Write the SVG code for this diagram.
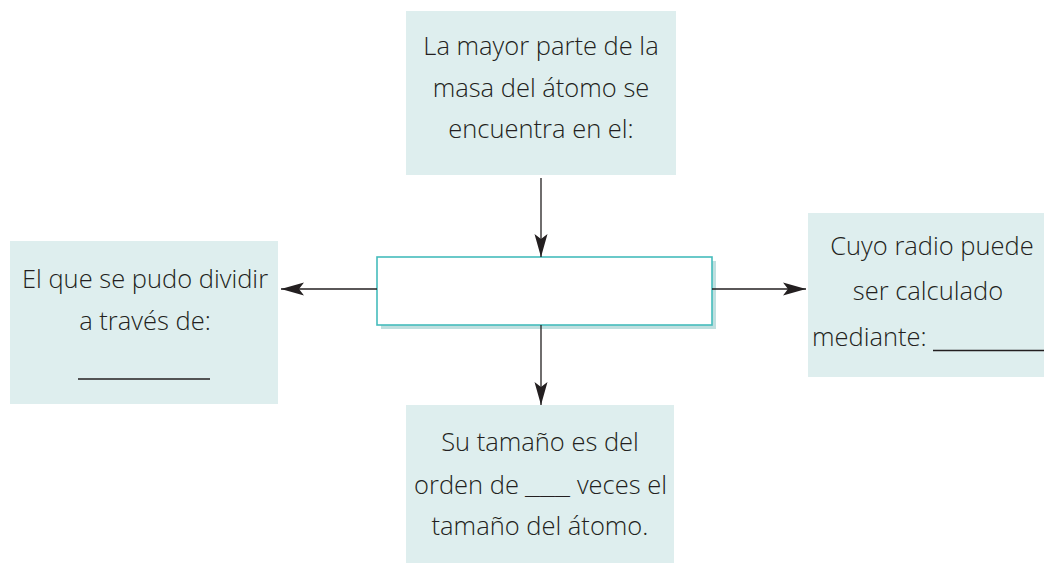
<svg xmlns="http://www.w3.org/2000/svg" width="1044" height="563" viewBox="0 0 1044 563">
<style>
.box{fill:#deeeee;}
.t{font-family:"Open Sans",Lato,"Liberation Sans",sans-serif;font-weight:300;font-size:25.5px;fill:#231f20;text-anchor:middle;}
.s{text-anchor:start;}
.e{text-anchor:end;}
.c{stroke:#231f20;stroke-width:1.3;fill:none;marker-end:url(#ah);}
</style>
<defs>
<marker id="ah" markerUnits="userSpaceOnUse" markerWidth="26" markerHeight="16" viewBox="-24 -8 26 16" refX="0" refY="0" orient="auto">
<path d="M0,0 L-23,-6.5 L-18,0 L-23,6.5 Z" fill="#231f20"/>
</marker>
</defs>
<rect width="1044" height="563" fill="#ffffff"/>
<g id="top">
<rect class="box" x="406" y="11" width="270" height="164"/>
<text class="t" x="541" y="55">La mayor parte de la</text>
<text class="t" x="541" y="97">masa del átomo se</text>
<text class="t" x="541" y="138">encuentra en el:</text>
</g>
<g id="center">
<rect x="381" y="261" width="335" height="68" fill="#bfdfdf"/>
<rect x="377" y="257" width="335" height="68" fill="#ffffff" stroke="#45bcbc" stroke-width="1.6"/>
</g>
<g id="left">
<rect class="box" x="10" y="241" width="268" height="163"/>
<text class="t" x="145" y="288">El que se pudo dividir</text>
<text class="t" x="145" y="330">a través de:</text>
<line x1="78" y1="379" x2="210" y2="379" stroke="#231f20" stroke-width="1.3"/>
</g>
<g id="right">
<rect class="box" x="808" y="213" width="236" height="164"/>
<text class="t" x="932" y="255">Cuyo radio puede</text>
<text class="t" x="928" y="300">ser calculado</text>
<text class="t s" x="812" y="346">mediante:</text>
<line x1="933" y1="350.5" x2="1044" y2="350.5" stroke="#231f20" stroke-width="1.3"/>
</g>
<g id="bottom">
<rect class="box" x="406" y="405" width="268" height="158"/>
<text class="t" x="540" y="451">Su tamaño es del</text>
<text class="t s" x="414" y="494">orden de</text>
<text class="t s" x="525" y="494" textLength="45" lengthAdjust="spacingAndGlyphs">___</text>
<text class="t e" x="667" y="494">veces el</text>
<text class="t" x="540" y="535">tamaño del átomo.</text>
</g>
<g id="connectors">
<path class="c" d="M541,178 L541,257"/>
<path class="c" d="M541,325 L541,405"/>
<path class="c" d="M377,289 L281,289"/>
<path class="c" d="M712,289 L806,289"/>
</g>
</svg>
